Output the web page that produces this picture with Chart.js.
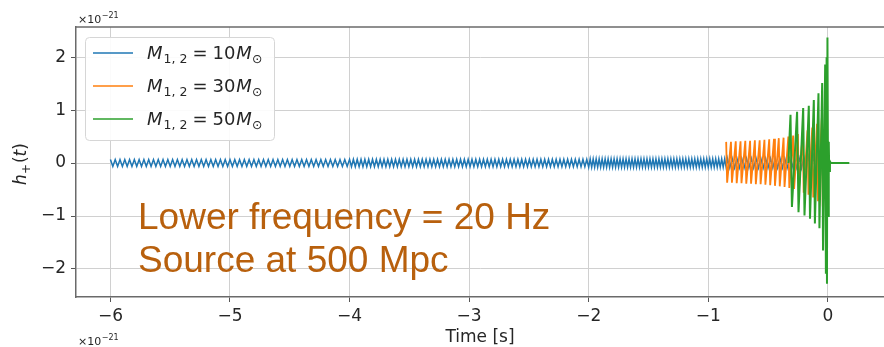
<!DOCTYPE html>
<html>
<head>
<meta charset="utf-8">
<script src="https://cdn.jsdelivr.net/npm/chart.js@4.4.1/dist/chart.umd.min.js"></script>
<style>
  html, body { margin: 0; padding: 0; background: #fff; }
  #wrap { width: 884px; height: 347px; }
</style>
</head>
<body>
<div id="wrap"><canvas id="myChart" width="884" height="347"></canvas></div>
<script>
const xTicks = [-6, -5, -4, -3, -2, -1, 0];
const yTicks = [-2, -1, 0, 1, 2];
const massLabels = ["10", "30", "50"];
const seriesColors = ["#1f77b4", "#ff7f0e", "#2ca02c"];
const noteLines = ["Lower frequency = 20 Hz", "Source at 500 Mpc"];
const axisTitle = "Time [s]";

// M = 10 Msun (strain in units of 1e-21)
const blueTime = [
  -6.00,-5.98,-5.96,-5.94,-5.92,-5.90,-5.88,-5.86,-5.84,-5.82,
  -5.80,-5.78,-5.76,-5.74,-5.72,-5.70,-5.68,-5.66,-5.64,-5.62,
  -5.60,-5.58,-5.56,-5.54,-5.52,-5.50,-5.48,-5.46,-5.44,-5.42,
  -5.40,-5.38,-5.36,-5.34,-5.32,-5.30,-5.28,-5.26,-5.24,-5.22,
  -5.20,-5.18,-5.16,-5.14,-5.12,-5.10,-5.08,-5.06,-5.04,-5.02,
  -5.00,-4.98,-4.96,-4.94,-4.92,-4.90,-4.88,-4.86,-4.84,-4.82,
  -4.80,-4.78,-4.76,-4.74,-4.72,-4.70,-4.68,-4.66,-4.64,-4.62,
  -4.60,-4.58,-4.56,-4.54,-4.52,-4.50,-4.48,-4.46,-4.44,-4.42,
  -4.40,-4.38,-4.36,-4.34,-4.32,-4.30,-4.28,-4.26,-4.24,-4.22,
  -4.20,-4.18,-4.16,-4.14,-4.12,-4.10,-4.08,-4.06,-4.04,-4.02,
  -4.000,-3.984,-3.968,-3.952,-3.936,-3.920,-3.904,-3.888,-3.872,-3.856,
  -3.840,-3.824,-3.808,-3.792,-3.776,-3.760,-3.744,-3.728,-3.712,-3.696,
  -3.680,-3.664,-3.648,-3.632,-3.616,-3.600,-3.584,-3.568,-3.552,-3.536,
  -3.520,-3.504,-3.488,-3.472,-3.456,-3.440,-3.424,-3.408,-3.392,-3.376,
  -3.360,-3.344,-3.328,-3.312,-3.296,-3.280,-3.264,-3.248,-3.232,-3.216,
  -3.200,-3.184,-3.168,-3.152,-3.136,-3.120,-3.104,-3.088,-3.072,-3.056,
  -3.040,-3.024,-3.008,-2.992,-2.976,-2.960,-2.944,-2.928,-2.912,-2.896,
  -2.880,-2.864,-2.848,-2.832,-2.816,-2.800,-2.784,-2.768,-2.752,-2.736,
  -2.720,-2.704,-2.688,-2.672,-2.656,-2.640,-2.624,-2.608,-2.592,-2.576,
  -2.560,-2.544,-2.528,-2.512,-2.496,-2.480,-2.464,-2.448,-2.432,-2.416,
  -2.400,-2.384,-2.368,-2.352,-2.336,-2.320,-2.304,-2.288,-2.272,-2.256,
  -2.240,-2.224,-2.208,-2.192,-2.176,-2.160,-2.144,-2.128,-2.112,-2.096,
  -2.080,-2.064,-2.048,-2.032,-2.016,
  -2.0000,-1.9875,-1.9750,-1.9625,-1.9500,-1.9375,-1.9250,-1.9125,
  -1.9000,-1.8875,-1.8750,-1.8625,-1.8500,-1.8375,-1.8250,-1.8125,
  -1.8000,-1.7875,-1.7750,-1.7625,-1.7500,-1.7375,-1.7250,-1.7125,
  -1.7000,-1.6875,-1.6750,-1.6625,-1.6500,-1.6375,-1.6250,-1.6125,
  -1.6000,-1.5875,-1.5750,-1.5625,-1.5500,-1.5375,-1.5250,-1.5125,
  -1.5000,-1.4875,-1.4750,-1.4625,-1.4500,-1.4375,-1.4250,-1.4125,
  -1.4000,-1.3875,-1.3750,-1.3625,-1.3500,-1.3375,-1.3250,-1.3125,
  -1.3000,-1.2875,-1.2750,-1.2625,-1.2500,-1.2375,-1.2250,-1.2125,
  -1.2000,-1.1875,-1.1750,-1.1625,-1.1500,-1.1375,-1.1250,-1.1125,
  -1.1000,-1.0875,-1.0750,-1.0625,-1.0500,-1.0375,-1.0250,-1.0125,
  -1.0000,-0.9875,-0.9750,-0.9625,-0.9500,-0.9375,-0.9250,-0.9125,
  -0.9000,-0.8875,-0.8750,-0.8625,-0.8500,
  -0.84,-0.82,-0.80,-0.78,-0.76,-0.74,-0.72,-0.70,-0.68,-0.66,
  -0.64,-0.62,-0.60,-0.58,-0.56,-0.54,-0.52,-0.50,-0.48,-0.46,
  -0.44,-0.42,-0.40,-0.38,-0.36,-0.34,-0.32,-0.30,-0.28,-0.26,
  -0.24,-0.22,-0.20,-0.18,-0.16,-0.14,-0.12,-0.10,-0.08,-0.06,
  -0.04,-0.02,0.00
];
const blueStrain = [
  0.065,-0.065,0.065,-0.065,0.065,-0.065,0.065,-0.065,0.065,-0.065,
  0.065,-0.065,0.065,-0.065,0.065,-0.065,0.065,-0.065,0.065,-0.065,
  0.065,-0.065,0.065,-0.065,0.065,-0.065,0.065,-0.065,0.065,-0.065,
  0.065,-0.065,0.065,-0.065,0.065,-0.065,0.065,-0.065,0.065,-0.065,
  0.065,-0.065,0.065,-0.065,0.065,-0.065,0.065,-0.065,0.065,-0.065,
  0.065,-0.065,0.065,-0.065,0.065,-0.065,0.065,-0.065,0.065,-0.065,
  0.065,-0.065,0.065,-0.065,0.065,-0.065,0.065,-0.065,0.065,-0.065,
  0.065,-0.065,0.065,-0.065,0.065,-0.065,0.065,-0.065,0.065,-0.065,
  0.065,-0.065,0.065,-0.065,0.065,-0.065,0.065,-0.065,0.065,-0.065,
  0.065,-0.065,0.065,-0.065,0.065,-0.065,0.065,-0.065,0.065,-0.065,
  0.07,-0.07,0.07,-0.07,0.07,-0.07,0.07,-0.07,0.07,-0.07,
  0.07,-0.07,0.07,-0.07,0.07,-0.07,0.07,-0.07,0.07,-0.07,
  0.07,-0.07,0.07,-0.07,0.07,-0.07,0.07,-0.07,0.07,-0.07,
  0.07,-0.07,0.07,-0.07,0.07,-0.07,0.07,-0.07,0.07,-0.07,
  0.07,-0.07,0.07,-0.07,0.07,-0.07,0.07,-0.07,0.07,-0.07,
  0.07,-0.07,0.07,-0.07,0.07,-0.07,0.07,-0.07,0.07,-0.07,
  0.07,-0.07,0.07,-0.07,0.07,-0.07,0.07,-0.07,0.07,-0.07,
  0.07,-0.07,0.07,-0.07,0.07,-0.07,0.07,-0.07,0.07,-0.07,
  0.07,-0.07,0.07,-0.07,0.07,-0.07,0.07,-0.07,0.07,-0.07,
  0.07,-0.07,0.07,-0.07,0.07,-0.07,0.07,-0.07,0.07,-0.07,
  0.07,-0.07,0.07,-0.07,0.07,-0.07,0.07,-0.07,0.07,-0.07,
  0.07,-0.07,0.07,-0.07,0.07,-0.07,0.07,-0.07,0.07,-0.07,
  0.07,-0.07,0.07,-0.07,0.07,
  -0.08,0.08,-0.08,0.08,-0.08,0.08,-0.08,0.08,
  -0.08,0.08,-0.08,0.08,-0.08,0.08,-0.08,0.08,
  -0.08,0.08,-0.08,0.08,-0.08,0.08,-0.08,0.08,
  -0.08,0.08,-0.08,0.08,-0.08,0.08,-0.08,0.08,
  -0.08,0.08,-0.08,0.08,-0.08,0.08,-0.08,0.08,
  -0.08,0.08,-0.08,0.08,-0.08,0.08,-0.08,0.08,
  -0.08,0.08,-0.08,0.08,-0.08,0.08,-0.08,0.08,
  -0.08,0.08,-0.08,0.08,-0.08,0.08,-0.08,0.08,
  -0.08,0.08,-0.08,0.08,-0.08,0.08,-0.08,0.08,
  -0.08,0.08,-0.08,0.08,-0.08,0.08,-0.08,0.08,
  -0.08,0.08,-0.08,0.08,-0.08,0.08,-0.08,0.08,
  -0.08,0.08,-0.08,0.08,-0.08,
  0.09,-0.09,0.09,-0.09,0.09,-0.09,0.09,-0.09,0.09,-0.09,
  0.09,-0.09,0.09,-0.09,0.09,-0.09,0.09,-0.09,0.09,-0.09,
  0.09,-0.09,0.09,-0.09,0.09,-0.09,0.09,-0.09,0.09,-0.09,
  0.10,-0.10,0.11,-0.11,0.12,-0.12,0.14,-0.15,0.17,-0.19,
  0.22,-0.26,0.00
];

// M = 30 Msun
const orangeTime = [
  -0.85,-0.842,-0.81,-0.802,-0.77,-0.762,-0.73,-0.722,-0.69,-0.682,
  -0.65,-0.642,-0.61,-0.602,-0.57,-0.562,-0.53,-0.522,-0.49,-0.482,
  -0.45,-0.442,-0.41,-0.402,-0.37,-0.362,-0.33,-0.322,-0.29,-0.282,
  -0.25,-0.242,-0.21,-0.202,-0.17,-0.162,-0.13,-0.122,-0.09,-0.082,
  -0.05,-0.042,-0.02,-0.012,0.0,0.01,0.15
];
const orangeStrain = [
  0.40,-0.37,0.40,-0.37,0.41,-0.38,0.41,-0.38,0.42,-0.39,
  0.42,-0.39,0.43,-0.40,0.43,-0.40,0.44,-0.41,0.45,-0.42,
  0.46,-0.43,0.47,-0.44,0.48,-0.45,0.50,-0.47,0.52,-0.49,
  0.55,-0.52,0.58,-0.56,0.62,-0.60,0.67,-0.65,0.74,-0.72,
  0.85,-0.82,0.70,-0.60,0.10,0.00,0.00
];

// M = 50 Msun
const greenTime = [
  -0.33,-0.312,-0.300,-0.257,-0.245,-0.206,-0.195,-0.159,-0.149,-0.117,
  -0.108,-0.078,-0.070,-0.047,-0.040,-0.022,-0.016,-0.010,-0.007,-0.003,
  0.003,0.008,0.012,0.018,0.025,0.18
];
const greenStrain = [
  0.00,0.91,-0.83,0.97,-0.93,1.04,-0.99,1.08,-1.05,1.19,
  -1.14,1.32,-1.23,1.51,-1.65,1.86,-2.09,2.00,-2.28,2.37,
  -1.00,0.40,-0.15,0.03,0.00,0.00
];

const FONT = '"DejaVu Sans", Verdana, sans-serif';
const inkColor = "#262626";
const spineColor = "#6a6a6a";
const gridColor = "#d0d0d0";
const noteColor = "#b8600d";

function toPoints(ts, hs) {
  return ts.map((t, i) => ({ x: t, y: hs[i] }));
}

function fmtTick(v) {
  return v < 0 ? "\u2212" + Math.abs(v) : String(v);
}

// draw a row of text pieces: [text, font, dy, gapBefore]
function drawRuns(ctx, x, y, runs, center) {
  let w = 0;
  runs.forEach((r) => {
    ctx.font = r[1];
    w += r[3] + ctx.measureText(r[0]).width;
  });
  let cx = center ? x - w / 2 : x;
  runs.forEach((r) => {
    ctx.font = r[1];
    cx += r[3];
    ctx.fillText(r[0], cx, y + r[2]);
    cx += ctx.measureText(r[0]).width;
  });
}

function drawOffset(ctx, x, y) {
  ctx.fillStyle = inkColor;
  drawRuns(ctx, x, y, [
    ["\u00d710", "11px " + FONT, 0, 0],
    ["\u221221", "8px " + FONT, -5, 0.5],
  ], false);
}

const decorPlugin = {
  id: "decor",
  afterDraw(chart) {
    const { ctx, chartArea: a } = chart;
    ctx.save();

    // top spine
    ctx.strokeStyle = spineColor;
    ctx.lineWidth = 1.5;
    ctx.beginPath();
    ctx.moveTo(a.left, a.top);
    ctx.lineTo(a.right, a.top);
    ctx.stroke();

    ctx.textBaseline = "alphabetic";
    ctx.textAlign = "left";
    drawOffset(ctx, 78, 23);
    drawOffset(ctx, 78, 345);

    // y axis label h_+(t)
    ctx.save();
    ctx.translate(26, 164);
    ctx.rotate(-Math.PI / 2);
    ctx.fillStyle = inkColor;
    drawRuns(ctx, 0, 0, [
      ["h", "italic 17px " + FONT, 0, 0],
      ["+", "12px " + FONT, 4, 0],
      ["(", "17px " + FONT, 0, 1],
      ["t", "italic 17px " + FONT, 0, 0],
      [")", "17px " + FONT, 0, 0],
    ], true);
    ctx.restore();

    // legend
    const lx = 85, ly = 37, lw = 189, lh = 103;
    ctx.fillStyle = "rgba(255,255,255,0.9)";
    ctx.strokeStyle = "#d6d6d6";
    ctx.lineWidth = 1;
    ctx.beginPath();
    ctx.roundRect(lx + 0.5, ly + 0.5, lw, lh, 4);
    ctx.fill();
    ctx.stroke();
    massLabels.forEach((m, i) => {
      const ry = 53 + i * 33;
      ctx.strokeStyle = seriesColors[i];
      ctx.lineWidth = 1.6;
      ctx.beginPath();
      ctx.moveTo(93, ry);
      ctx.lineTo(133, ry);
      ctx.stroke();
      ctx.fillStyle = inkColor;
      drawRuns(ctx, 147, ry + 6, [
        ["M", "italic 18px " + FONT, 0, 0],
        ["1, 2", "12.5px " + FONT, 4, 1],
        ["=", "18px " + FONT, 0, 5],
        [m, "18px " + FONT, 0, 5],
        ["M", "italic 18px " + FONT, 0, 1],
        ["\u2299", "12.5px " + FONT, 4, 0],
      ], false);
    });

    // annotation
    ctx.fillStyle = noteColor;
    ctx.font = '37px "Liberation Sans", Arial, sans-serif';
    ctx.fillText(noteLines[0], 138, 229);
    ctx.fillText(noteLines[1], 138, 272);

    ctx.restore();
  },
};

const ctx = document.getElementById("myChart").getContext("2d");
const chart = new Chart(ctx, {
  type: "line",
  data: {
    datasets: [
      {
        label: "M=" + massLabels[0],
        data: toPoints(blueTime, blueStrain),
        borderColor: seriesColors[0],
        borderWidth: 1.5,
        order: 3,
      },
      {
        label: "M=" + massLabels[1],
        data: toPoints(orangeTime, orangeStrain),
        borderColor: seriesColors[1],
        borderWidth: 1.8,
        order: 2,
      },
      {
        label: "M=" + massLabels[2],
        data: toPoints(greenTime, greenStrain),
        borderColor: seriesColors[2],
        borderWidth: 2,
        order: 1,
      },
    ],
  },
  options: {
    responsive: false,
    devicePixelRatio: 1,
    animation: false,
    elements: { point: { radius: 0 }, line: { tension: 0 } },
    layout: { padding: { top: 27, left: 0, right: 0, bottom: 0 } },
    plugins: { legend: { display: false }, tooltip: { enabled: false } },
    scales: {
      x: {
        type: "linear",
        min: -6.288,
        max: 0.47,
        afterBuildTicks: (s) => { s.ticks = xTicks.map((v) => ({ value: v })); },
        afterFit: (s) => { s.height = 50; },
        ticks: { color: inkColor, font: { family: FONT, size: 17 }, padding: 4, callback: fmtTick, maxRotation: 0 },
        grid: { color: gridColor, lineWidth: 1, tickColor: "#555", tickLength: 5 },
        border: { color: spineColor, width: 1.5 },
        title: { display: true, text: axisTitle, color: inkColor, font: { family: FONT, size: 17 }, padding: { top: 0, bottom: -1 } },
      },
      y: {
        type: "linear",
        min: -2.53,
        max: 2.57,
        afterBuildTicks: (s) => { s.ticks = yTicks.map((v) => ({ value: v })); },
        afterFit: (s) => { s.width = 76; },
        ticks: { color: inkColor, font: { family: FONT, size: 17 }, padding: 5, callback: fmtTick },
        grid: { color: gridColor, lineWidth: 1, tickColor: "#555", tickLength: 5 },
        border: { color: spineColor, width: 1.5 },
      },
    },
  },
  plugins: [decorPlugin],
});
</script>
</body>
</html>
